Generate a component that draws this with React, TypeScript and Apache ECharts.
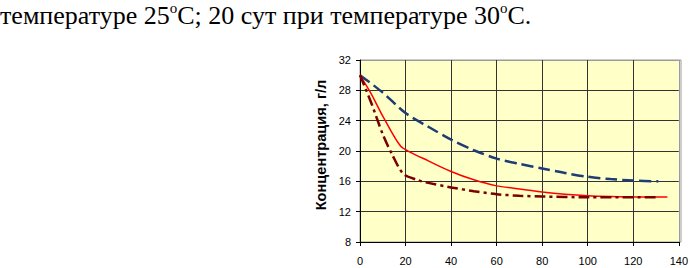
import React, { useEffect, useRef } from "react";
import * as echarts from "echarts";

const xTicks = [0, 20, 40, 60, 80, 100, 120, 140];
const yTicks = [8, 12, 16, 20, 24, 28, 32];

const blueX = [0, 10, 20, 30, 40, 50, 60, 70, 80, 90, 100, 110, 120, 131];
const blueY = [30, 27.7, 25, 23.2, 21.5, 20.1, 19, 18.3, 17.7, 17.1, 16.6, 16.3, 16.1, 16];

const redX = [0, 5, 10, 18, 30, 40, 50, 60, 70, 80, 90, 100, 110, 120, 135];
const redY = [30, 27.5, 24.6, 20.6, 18.7, 17.3, 16.2, 15.4, 15, 14.6, 14.3, 14.1, 14, 13.95, 13.95];

const darkX = [0, 5, 10, 14, 19, 25, 30, 40, 50, 60, 70, 80, 100, 131];
const darkY = [30, 26.3, 22.2, 19.6, 17, 16.2, 15.8, 15.2, 14.7, 14.3, 14.1, 14, 13.9, 13.9];

const yTitle = "Концентрация, г/л";

const pairs = (xs: number[], ys: number[]) => xs.map((x, i) => [x, ys[i]]);

export default function App() {
  const ref = useRef<HTMLDivElement>(null);
  useEffect(() => {
    if (!ref.current) return;
    const chart = echarts.init(ref.current, undefined, { renderer: "svg" });
    const font = "Liberation Sans";
    chart.setOption({
      animation: false,
      backgroundColor: "#ffffff",
      graphic: [
        {
          type: "text",
          left: 0,
          top: 0,
          style: {
            text: "{n|температуре 25}{s|o}{n|C; 20 сут при температуре 30}{s|o}{n|C.}",
            rich: {
              n: { fontFamily: "Liberation Serif", fontSize: 26, lineHeight: 23, fill: "#000" },
              s: { fontFamily: "Liberation Serif", fontSize: 15, lineHeight: 8, padding: [0, 0, 15, 0], fill: "#000" },
            },
          },
        },
        {
          type: "text",
          x: 321,
          y: 145,
          rotation: Math.PI / 2,
          style: {
            text: yTitle,
            fontFamily: font,
            fontSize: 14.6,
            fontWeight: "bold",
            fill: "#000",
            align: "center",
            verticalAlign: "middle",
          },
        },
        {
          type: "rect",
          shape: { x: 360, y: 60, width: 321, height: 182 },
          style: { fill: "none", stroke: "#9a9a9a", lineWidth: 1 },
          z: 0,
        },
      ],
      grid: {
        left: 360,
        right: 10,
        top: 60,
        bottom: 26,
        show: true,
        backgroundColor: "#FFFFC8",
        borderWidth: 0,
      },
      xAxis: {
        type: "value",
        min: 0,
        max: 140,
        interval: 20,
        axisLine: { show: true, onZero: false, lineStyle: { color: "#000", width: 1 } },
        axisTick: { show: true, inside: false, length: 4, lineStyle: { color: "#000" } },
        axisLabel: { fontFamily: font, fontSize: 11, color: "#000", margin: 13 },
        splitLine: {
          show: true,
          lineStyle: { color: ["#000", "#333", "#333", "#333", "#333", "#333", "#333", "#9a9a9a"], width: 1 },
        },
      },
      yAxis: {
        type: "value",
        min: 8,
        max: 32,
        interval: 4,
        axisLine: { show: true, onZero: false, lineStyle: { color: "#000", width: 1 } },
        axisTick: { show: true, inside: false, length: 4, lineStyle: { color: "#000" } },
        axisLabel: { fontFamily: font, fontSize: 11, color: "#000", margin: 9 },
        splitLine: {
          show: true,
          lineStyle: { color: ["#000", "#333", "#333", "#333", "#333", "#333", "#9a9a9a"], width: 1 },
        },
      },
      series: [
        {
          type: "line",
          data: pairs(blueX, blueY),
          smooth: 0.3,
          showSymbol: false,
          lineStyle: { color: "#1F3C74", width: 2.5, type: [12, 5] },
        },
        {
          type: "line",
          data: pairs(redX, redY),
          smooth: 0.2,
          showSymbol: false,
          lineStyle: { color: "#FF0000", width: 1.5, type: "solid" },
        },
        {
          type: "line",
          data: pairs(darkX, darkY),
          smooth: 0.3,
          showSymbol: false,
          lineStyle: { color: "#7A0000", width: 2.5, type: [11, 4, 3, 4] },
        },
      ],
    });
    return () => chart.dispose();
  }, []);
  return (
    <div
      ref={ref}
      style={{ position: "fixed", left: 0, top: 0, width: 691, height: 268 }}
    />
  );
}
